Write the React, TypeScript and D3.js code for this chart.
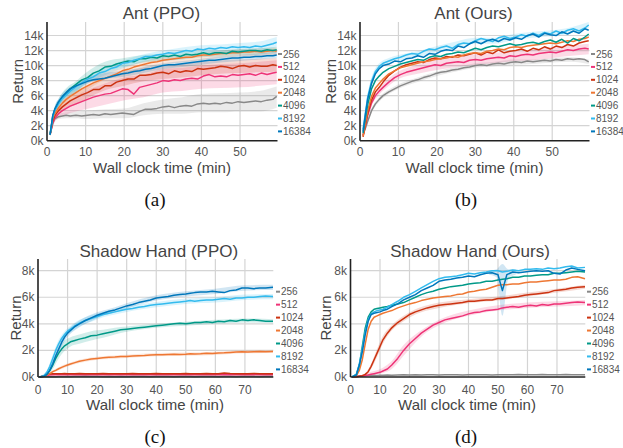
import React from "react";
import * as d3 from "d3";

// ---------- shared ----------
const COLORS = ["#888888", "#ee3377", "#cc3311", "#ee7733", "#009988", "#33bbee", "#0077bb"];
const ANT_NAMES = ["256", "512", "1024", "2048", "4096", "8192", "16384"];
const HAND_NAMES = ["256", "512", "1024", "2048", "4096", "8192", "16834"];

const ANT_X_TICKS = [0, 10, 20, 30, 40, 50];
const ANT_Y_TICKS = [0, 2, 4, 6, 8, 10, 12, 14];
const HAND_X_TICKS = [0, 10, 20, 30, 40, 50, 60, 70];
const HAND_Y_TICKS = [0, 2, 4, 6, 8];

// ---------- Ant: wall clock minutes, return in thousands ----------
const ANT_T = [0.8, 1.5, 2, 3, 4, 5, 6, 7.5, 9, 10.5, 12, 13.5, 15, 16.5, 18, 19.5, 21, 22.5, 24, 25.5, 27, 28.5, 30, 31.5, 33, 34.5, 36, 37.5, 39, 40.5, 42, 43.5, 45, 46.5, 48, 49.5, 51, 52.5, 54, 55.5, 57, 58.5, 59.5];
const ANT_BAND_T = [0.8, 2, 3, 5, 7.5, 10, 15, 20, 25, 30, 35, 40, 45, 50, 55, 59.5];

const ANT_PPO_256 = [0.8, 2.3, 2.9, 3.2, 3.3, 3.4, 3.3, 3.4, 3.3, 3.4, 3.5, 3.4, 3.6, 3.5, 3.6, 3.7, 3.6, 3.5, 3.9, 4.2, 4.2, 4.3, 4.5, 4.6, 4.4, 4.6, 4.7, 4.6, 4.9, 5.0, 4.9, 5.0, 4.9, 5.1, 5.0, 5.2, 5.1, 5.2, 5.3, 5.2, 5.4, 5.5, 5.9];
const ANT_PPO_512 = [0.8, 2.4, 3.0, 3.6, 4.0, 4.3, 4.6, 4.9, 5.2, 5.5, 5.8, 6.0, 6.2, 6.3, 6.6, 6.9, 6.8, 6.2, 7.1, 7.3, 7.5, 7.7, 8.0, 7.9, 8.1, 8.0, 8.2, 8.3, 8.2, 8.6, 8.8, 8.5, 8.6, 8.5, 8.8, 8.7, 8.8, 8.9, 8.7, 9.0, 8.8, 9.0, 9.1];
const ANT_PPO_1024 = [0.8, 2.7, 3.3, 4.0, 4.5, 4.9, 5.3, 5.7, 6.1, 6.4, 6.8, 6.8, 7.3, 7.3, 7.8, 8.0, 8.2, 8.2, 8.7, 8.7, 8.8, 9.0, 9.1, 8.9, 9.3, 9.1, 9.3, 9.2, 9.6, 9.5, 9.6, 9.7, 9.9, 9.8, 9.6, 9.9, 10.0, 9.8, 10.0, 9.9, 9.9, 10.1, 10.0];
const ANT_PPO_2048 = [0.8, 3.0, 3.6, 4.4, 5.0, 5.5, 5.9, 6.4, 6.9, 7.3, 7.7, 8.0, 8.3, 8.6, 8.9, 9.3, 9.5, 9.8, 10.0, 10.2, 10.4, 10.5, 10.7, 10.8, 10.9, 11.0, 11.1, 11.1, 11.3, 11.4, 11.4, 11.5, 11.6, 11.6, 11.7, 11.7, 11.8, 11.8, 11.9, 11.8, 11.9, 12.0, 11.9];
const ANT_PPO_4096 = [0.8, 3.3, 4.1, 5.1, 5.8, 6.4, 6.9, 7.5, 8.1, 8.4, 9.0, 9.3, 9.8, 9.9, 10.2, 10.4, 10.6, 10.5, 10.9, 10.9, 11.1, 11.0, 11.3, 11.2, 11.4, 11.2, 11.5, 11.4, 11.5, 11.7, 11.5, 11.7, 11.7, 11.6, 11.9, 11.8, 11.9, 12.0, 12.0, 11.9, 12.1, 12.0, 12.1];
const ANT_PPO_8192 = [0.8, 3.2, 4.0, 4.9, 5.6, 6.1, 6.6, 7.2, 7.7, 8.2, 8.5, 9.0, 9.2, 9.6, 9.8, 10.3, 10.4, 10.7, 10.9, 11.2, 11.2, 11.4, 11.5, 11.7, 11.6, 11.8, 12.0, 11.9, 12.2, 12.1, 12.3, 12.2, 12.4, 12.3, 12.5, 12.4, 12.5, 12.4, 12.6, 12.5, 12.7, 12.9, 13.1];
const ANT_PPO_16384 = [0.8, 3.4, 4.2, 5.2, 5.9, 6.4, 6.9, 7.3, 7.6, 7.9, 8.1, 8.2, 8.3, 8.5, 8.7, 8.9, 9.0, 9.2, 9.3, 9.5, 9.6, 9.8, 10.0, 10.1, 10.1, 10.2, 10.3, 10.4, 10.5, 10.6, 10.7, 10.7, 10.8, 10.9, 11.0, 11.0, 11.1, 11.1, 11.2, 11.2, 11.3, 11.3, 11.4];

const ANT_PPO_256_LO = [0.6, 2.6, 2.9, 3.0, 3.0, 2.9, 3.0, 3.0, 3.4, 3.6, 3.6, 3.8, 3.8, 3.9, 3.9, 4.4];
const ANT_PPO_256_HI = [1.0, 3.2, 3.6, 3.8, 3.9, 4.0, 4.2, 4.3, 5.0, 5.5, 5.8, 6.2, 6.3, 6.4, 6.6, 7.2];
const ANT_PPO_512_LO = [0.6, 2.5, 3.0, 3.5, 3.9, 4.2, 4.8, 5.4, 5.8, 6.4, 6.6, 6.9, 7.0, 7.1, 7.3, 7.5];
const ANT_PPO_512_HI = [1.0, 3.5, 4.2, 5.1, 5.9, 6.6, 7.6, 8.4, 8.8, 9.5, 9.7, 10.0, 10.2, 10.3, 10.5, 10.7];
const ANT_PPO_1024_LO = [0.6, 2.9, 3.5, 4.3, 4.8, 5.5, 6.7, 7.3, 7.9, 8.2, 8.4, 8.7, 8.9, 9.0, 9.1, 9.2];
const ANT_PPO_1024_HI = [1.0, 3.8, 4.7, 5.8, 6.5, 7.2, 8.4, 9.1, 9.7, 10.0, 10.2, 10.5, 10.7, 10.8, 10.9, 11.0];
const ANT_PPO_2048_LO = [0.6, 3.2, 4.0, 5.0, 5.7, 6.6, 8.1, 8.8, 9.6, 10.1, 10.4, 10.7, 11.0, 11.2, 11.3, 11.4];
const ANT_PPO_2048_HI = [1.0, 4.0, 4.8, 6.0, 6.7, 7.6, 9.1, 9.8, 10.6, 11.1, 11.4, 11.7, 12.0, 12.2, 12.3, 12.4];
const ANT_PPO_4096_LO = [0.6, 3.7, 4.6, 5.8, 6.5, 7.6, 9.1, 9.8, 10.4, 10.6, 10.8, 11.1, 11.2, 11.4, 11.5, 11.7];
const ANT_PPO_4096_HI = [1.0, 4.5, 5.6, 7.0, 7.9, 9.0, 10.5, 11.0, 11.4, 11.6, 11.8, 11.9, 12.0, 12.2, 12.3, 12.5];
const ANT_PPO_8192_LO = [0.6, 3.6, 4.4, 5.6, 6.4, 7.4, 8.7, 9.7, 10.5, 11.0, 11.3, 11.6, 11.7, 11.9, 12.0, 12.5];
const ANT_PPO_8192_HI = [1.0, 4.4, 5.4, 6.6, 7.4, 8.4, 9.7, 10.7, 11.5, 12.0, 12.4, 12.7, 12.8, 13.0, 13.2, 13.8];
const ANT_PPO_16384_LO = [0.6, 3.8, 4.8, 6.0, 6.7, 7.5, 8.2, 8.5, 9.0, 9.5, 9.8, 10.1, 10.4, 10.6, 10.8, 11.0];
const ANT_PPO_16384_HI = [1.0, 4.6, 5.6, 6.8, 7.5, 8.3, 9.0, 9.3, 9.8, 10.3, 10.6, 10.9, 11.2, 11.4, 11.6, 11.8];

const ANT_OURS_256 = [0.8, 1.8, 2.6, 4.0, 4.9, 5.5, 6.0, 6.5, 6.9, 7.3, 7.6, 7.9, 8.1, 8.4, 8.6, 8.9, 9.1, 9.2, 9.4, 9.5, 9.7, 9.8, 10.0, 10.1, 10.0, 10.2, 10.3, 10.2, 10.4, 10.5, 10.4, 10.6, 10.5, 10.6, 10.7, 10.6, 10.8, 10.7, 10.9, 10.8, 10.9, 10.8, 10.5];
const ANT_OURS_512 = [0.7, 2.2, 3.4, 5.0, 6.0, 6.6, 7.1, 7.8, 8.4, 8.8, 9.1, 9.3, 9.5, 9.7, 9.9, 10.1, 10.0, 10.3, 10.4, 10.5, 10.4, 10.7, 10.8, 10.7, 10.9, 11.0, 11.1, 11.0, 11.3, 11.2, 11.4, 11.5, 11.4, 11.6, 11.7, 11.8, 11.7, 11.9, 12.1, 12.0, 12.2, 12.3, 12.2];
const ANT_OURS_1024 = [0.5, 2.3, 3.6, 5.4, 6.5, 7.1, 7.8, 8.7, 9.3, 9.8, 10.1, 10.3, 10.5, 10.4, 10.8, 11.0, 10.9, 11.2, 11.1, 11.4, 11.3, 11.5, 11.7, 11.4, 11.8, 11.6, 12.1, 11.7, 11.9, 12.0, 12.2, 11.9, 12.3, 12.1, 12.5, 12.2, 12.6, 12.4, 12.8, 12.6, 13.0, 13.2, 13.3];
const ANT_OURS_2048 = [0.6, 2.6, 4.0, 5.9, 7.0, 7.6, 8.2, 8.9, 9.3, 9.7, 9.9, 10.1, 10.3, 10.5, 10.6, 10.8, 10.9, 11.0, 11.2, 11.1, 11.4, 11.6, 11.7, 11.6, 11.9, 12.0, 12.2, 12.1, 12.4, 12.5, 12.4, 12.6, 12.7, 12.8, 12.9, 13.0, 12.9, 13.1, 13.3, 13.2, 13.5, 13.6, 13.8];
const ANT_OURS_4096 = [1.0, 3.3, 4.8, 6.9, 8.0, 8.6, 9.1, 9.6, 9.9, 10.2, 10.4, 10.6, 10.8, 10.7, 11.1, 11.3, 11.2, 11.5, 11.6, 11.8, 11.7, 12.0, 12.3, 12.1, 12.4, 12.6, 12.5, 12.7, 12.9, 12.7, 12.8, 13.0, 13.1, 12.9, 13.2, 13.4, 13.1, 13.5, 13.0, 13.6, 13.3, 13.8, 14.2];
const ANT_OURS_8192 = [1.5, 4.0, 5.8, 7.9, 9.2, 9.9, 10.3, 10.6, 10.9, 11.1, 11.4, 11.6, 11.5, 11.9, 12.2, 12.1, 12.4, 12.6, 12.3, 12.8, 13.0, 12.9, 13.3, 13.6, 13.4, 13.2, 13.7, 13.9, 13.6, 13.8, 14.1, 13.9, 14.3, 14.0, 14.4, 14.2, 14.6, 14.3, 14.7, 14.9, 14.6, 15.0, 15.4];
const ANT_OURS_16384 = [1.2, 3.8, 5.5, 7.6, 8.9, 9.6, 10.0, 10.2, 10.6, 10.5, 10.9, 11.0, 11.3, 11.1, 11.6, 11.5, 11.9, 12.1, 12.0, 12.6, 12.4, 12.9, 13.2, 12.9, 13.3, 13.5, 13.2, 13.6, 13.4, 13.7, 13.5, 14.0, 14.2, 13.8, 14.3, 14.1, 14.0, 14.5, 14.2, 14.6, 14.3, 14.9, 14.7];

const ANT_OURS_256_LO = [0.6, 2.3, 3.7, 5.2, 6.2, 6.9, 7.8, 8.6, 9.2, 9.7, 9.9, 10.1, 10.2, 10.4, 10.5, 10.2];
const ANT_OURS_256_HI = [1.0, 2.9, 4.3, 5.8, 6.8, 7.5, 8.4, 9.2, 9.8, 10.3, 10.5, 10.8, 10.8, 11.0, 11.1, 10.8];
const ANT_OURS_512_LO = [0.5, 3.0, 4.6, 6.1, 7.3, 8.2, 8.9, 9.4, 9.8, 10.1, 10.3, 10.6, 10.7, 11.0, 11.3, 11.5];
const ANT_OURS_512_HI = [0.9, 3.8, 5.4, 7.1, 8.3, 9.2, 10.1, 10.8, 11.1, 11.5, 11.7, 11.9, 12.1, 12.5, 12.7, 12.9];
const ANT_OURS_8192_LO = [1.1, 5.3, 7.4, 9.5, 10.2, 10.6, 11.1, 11.8, 12.4, 12.9, 12.9, 13.4, 13.7, 13.9, 14.3, 15.0];
const ANT_OURS_8192_HI = [1.9, 6.3, 8.4, 10.3, 11.0, 11.4, 11.9, 12.6, 13.2, 13.7, 13.7, 14.2, 14.5, 14.7, 15.1, 15.8];

// ---------- Shadow Hand: wall clock minutes, return in thousands ----------
const HAND_T = [0.5, 2, 3, 4, 5, 6, 7, 8, 9, 10, 11, 12.5, 14, 16, 18, 20, 22, 24, 26, 28, 30, 32, 34, 36, 38, 40, 42, 44, 46, 48, 50, 51.5, 53, 55, 57, 59, 61, 63, 65, 67, 69, 71, 73, 75, 77, 79.5];
const HAND_BAND_T = [0.5, 3, 5, 7, 9, 11, 14, 18, 22, 26, 30, 40, 50, 60, 70, 79.5];

const HAND_PPO_256 = [0, 0.01, 0.02, 0.02, 0.03, 0.02, 0.03, 0.04, 0.03, 0.05, 0.04, 0.05, 0.06, 0.08, 0.06, 0.05, 0.04, 0.05, 0.04, 0.05, 0.04, 0.05, 0.06, 0.05, 0.04, 0.05, 0.06, 0.05, 0.04, 0.05, 0.06, 0.05, 0.04, 0.05, 0.06, 0.05, 0.04, 0.06, 0.05, 0.04, 0.05, 0.06, 0.05, 0.04, 0.05, 0.05];
const HAND_PPO_512 = [0, 0.05, 0.12, 0.15, 0.16, 0.17, 0.16, 0.17, 0.18, 0.17, 0.16, 0.17, 0.18, 0.17, 0.16, 0.17, 0.18, 0.17, 0.16, 0.17, 0.17, 0.18, 0.17, 0.16, 0.17, 0.18, 0.17, 0.16, 0.17, 0.17, 0.18, 0.17, 0.16, 0.17, 0.18, 0.17, 0.16, 0.17, 0.18, 0.17, 0.16, 0.17, 0.18, 0.17, 0.16, 0.17];
const HAND_PPO_1024 = [0, 0.1, 0.2, 0.22, 0.24, 0.25, 0.24, 0.25, 0.26, 0.25, 0.24, 0.25, 0.26, 0.25, 0.24, 0.25, 0.26, 0.25, 0.24, 0.25, 0.25, 0.26, 0.25, 0.24, 0.25, 0.26, 0.25, 0.24, 0.25, 0.25, 0.26, 0.25, 0.24, 0.25, 0.26, 0.25, 0.24, 0.3, 0.26, 0.25, 0.24, 0.25, 0.26, 0.25, 0.24, 0.25];
const HAND_PPO_2048 = [0, 0.05, 0.15, 0.25, 0.4, 0.5, 0.62, 0.72, 0.82, 0.9, 0.98, 1.08, 1.18, 1.27, 1.35, 1.4, 1.45, 1.48, 1.5, 1.55, 1.55, 1.58, 1.6, 1.62, 1.65, 1.68, 1.67, 1.7, 1.72, 1.7, 1.72, 1.75, 1.73, 1.75, 1.78, 1.76, 1.8, 1.82, 1.85, 1.88, 1.9, 1.88, 1.9, 1.92, 1.9, 1.92];
const HAND_PPO_4096 = [0, 0.05, 0.2, 0.5, 0.9, 1.4, 1.8, 2.1, 2.35, 2.5, 2.65, 2.75, 2.85, 2.95, 3.1, 3.15, 3.25, 3.35, 3.45, 3.55, 3.6, 3.65, 3.7, 3.75, 3.8, 3.85, 3.9, 3.95, 4.0, 4.05, 4.0, 4.05, 4.1, 4.1, 4.15, 4.1, 4.2, 4.15, 4.25, 4.2, 4.3, 4.25, 4.3, 4.25, 4.2, 4.2];
const HAND_PPO_8192 = [0, 0.1, 0.35, 0.8, 1.4, 2.0, 2.5, 2.9, 3.2, 3.45, 3.6, 3.85, 4.05, 4.25, 4.4, 4.55, 4.7, 4.8, 4.9, 5.0, 5.1, 5.15, 5.25, 5.3, 5.4, 5.45, 5.5, 5.55, 5.6, 5.65, 5.7, 5.75, 5.7, 5.75, 5.8, 5.8, 5.85, 5.9, 5.85, 5.95, 5.95, 6.0, 6.0, 6.05, 6.1, 6.05];
const HAND_PPO_16834 = [0, 0.05, 0.2, 0.5, 1.0, 1.6, 2.1, 2.6, 3.0, 3.3, 3.5, 3.8, 4.0, 4.25, 4.45, 4.65, 4.8, 4.95, 5.05, 5.2, 5.35, 5.45, 5.6, 5.7, 5.8, 5.95, 6.0, 6.05, 6.15, 6.2, 6.25, 6.3, 6.35, 6.4, 6.4, 6.45, 6.4, 6.35, 6.5, 6.55, 6.7, 6.7, 6.65, 6.7, 6.7, 6.75];

const HAND_PPO_2048_LO = [0, 0.1, 0.3, 0.5, 0.7, 0.86, 1.06, 1.23, 1.33, 1.38, 1.43, 1.56, 1.6, 1.66, 1.78, 1.8];
const HAND_PPO_2048_HI = [0.05, 0.2, 0.5, 0.74, 0.94, 1.1, 1.3, 1.47, 1.57, 1.62, 1.67, 1.8, 1.84, 1.9, 2.02, 2.04];
const HAND_PPO_4096_LO = [0, 0.1, 0.6, 1.4, 1.95, 2.3, 2.5, 2.75, 2.95, 3.2, 3.4, 3.7, 3.85, 4.0, 4.1, 4.05];
const HAND_PPO_4096_HI = [0.05, 0.3, 1.2, 2.2, 2.75, 3.0, 3.2, 3.45, 3.55, 3.7, 3.8, 4.0, 4.15, 4.3, 4.4, 4.35];
const HAND_PPO_8192_LO = [0, 0.2, 1.1, 2.2, 2.95, 3.35, 3.8, 4.15, 4.5, 4.7, 4.9, 5.25, 5.5, 5.6, 5.8, 5.85];
const HAND_PPO_8192_HI = [0.05, 0.5, 1.7, 2.8, 3.45, 3.85, 4.3, 4.65, 4.9, 5.1, 5.3, 5.65, 5.9, 6.0, 6.2, 6.25];
const HAND_PPO_16834_LO = [0, 0.1, 0.8, 1.8, 2.7, 3.25, 3.75, 4.2, 4.6, 4.85, 5.15, 5.75, 6.05, 6.25, 6.5, 6.55];
const HAND_PPO_16834_HI = [0.05, 0.3, 1.2, 2.4, 3.3, 3.75, 4.25, 4.7, 5.0, 5.25, 5.55, 6.15, 6.45, 6.65, 6.9, 6.95];

const HAND_OURS_256 = [0, 0.05, 0.08, 0.1, 0.1, 0.12, 0.12, 0.13, 0.12, 0.14, 0.13, 0.15, 0.14, 0.15, 0.16, 0.15, 0.16, 0.15, 0.17, 0.16, 0.15, 0.16, 0.17, 0.16, 0.15, 0.17, 0.16, 0.17, 0.16, 0.15, 0.17, 0.16, 0.17, 0.16, 0.18, 0.17, 0.16, 0.17, 0.18, 0.17, 0.16, 0.17, 0.18, 0.17, 0.16, 0.17];
const HAND_OURS_512 = [0, 0.02, 0.05, 0.08, 0.12, 0.15, 0.2, 0.25, 0.3, 0.35, 0.45, 0.6, 0.9, 1.4, 2.0, 2.5, 2.9, 3.3, 3.6, 3.9, 4.1, 4.3, 4.4, 4.5, 4.6, 4.75, 4.85, 4.9, 5.0, 5.05, 5.1, 5.2, 5.25, 5.3, 5.25, 5.35, 5.4, 5.35, 5.45, 5.4, 5.5, 5.5, 5.55, 5.6, 5.65, 5.6];
const HAND_OURS_1024 = [0, 0.02, 0.05, 0.1, 0.2, 0.4, 0.8, 1.3, 1.8, 2.3, 2.8, 3.3, 3.7, 4.1, 4.4, 4.7, 4.9, 5.05, 5.2, 5.3, 5.4, 5.45, 5.5, 5.55, 5.6, 5.7, 5.7, 5.75, 5.8, 5.8, 5.9, 5.9, 5.95, 6.0, 6.05, 6.15, 6.2, 6.25, 6.3, 6.35, 6.5, 6.55, 6.6, 6.7, 6.75, 6.8];
const HAND_OURS_2048 = [0, 0.1, 0.5, 1.3, 2.5, 3.6, 4.2, 4.5, 4.6, 4.7, 4.8, 4.9, 5.0, 5.2, 5.35, 5.5, 5.6, 5.75, 5.85, 5.95, 6.0, 6.05, 6.1, 6.2, 6.25, 6.4, 6.45, 6.55, 6.6, 6.75, 6.9, 6.95, 6.95, 7.0, 7.0, 7.1, 7.15, 7.15, 7.2, 7.25, 7.3, 7.3, 7.35, 7.5, 7.55, 7.4];
const HAND_OURS_4096 = [0, 0.2, 0.9, 2.3, 3.7, 4.5, 4.9, 5.1, 5.15, 5.2, 5.25, 5.3, 5.4, 5.5, 5.6, 5.8, 6.0, 6.2, 6.35, 6.45, 6.6, 6.7, 6.8, 6.85, 6.9, 7.0, 7.05, 7.1, 7.2, 7.2, 7.3, 7.35, 7.4, 7.5, 7.5, 7.6, 7.6, 7.65, 7.7, 7.7, 7.8, 7.8, 7.85, 7.9, 7.95, 7.9];
const HAND_OURS_8192 = [0, 0.2, 1.0, 2.1, 3.4, 4.3, 4.75, 4.9, 5.0, 5.05, 5.1, 5.25, 5.45, 5.7, 6.0, 6.2, 6.45, 6.7, 6.95, 7.2, 7.4, 7.5, 7.55, 7.6, 7.7, 7.8, 7.75, 7.85, 7.9, 8.0, 8.0, 7.9, 7.95, 8.05, 8.0, 8.1, 8.1, 8.15, 8.1, 8.2, 8.15, 8.2, 8.3, 8.35, 8.2, 8.25];
const HAND_OURS_16834 = [0, 0.15, 0.9, 1.9, 3.2, 4.2, 4.7, 4.8, 4.85, 4.9, 5.0, 5.1, 5.3, 5.5, 5.8, 6.0, 6.2, 6.5, 6.7, 6.9, 7.2, 7.3, 7.35, 7.45, 7.5, 7.6, 7.55, 7.7, 7.8, 7.85, 7.7, 6.5, 7.7, 7.9, 7.85, 7.9, 7.95, 8.0, 7.95, 8.0, 7.8, 7.75, 8.05, 8.2, 8.1, 8.0];

const HAND_OURS_512_LO = [0, 0, 0.05, 0.15, 0.2, 0.3, 0.6, 1.6, 2.6, 3.4, 3.9, 4.6, 5.0, 5.2, 5.3, 5.4];
const HAND_OURS_512_HI = [0.05, 0.1, 0.25, 0.4, 0.5, 0.7, 1.2, 2.4, 3.2, 3.8, 4.3, 5.0, 5.4, 5.6, 5.7, 5.8];
const HAND_OURS_1024_LO = [0, 0, 0.1, 0.6, 1.5, 2.5, 3.5, 4.2, 4.7, 5.0, 5.2, 5.55, 5.75, 6.05, 6.35, 6.65];
const HAND_OURS_1024_HI = [0.05, 0.1, 0.3, 1.0, 2.1, 3.1, 3.9, 4.6, 5.1, 5.4, 5.6, 5.85, 6.05, 6.35, 6.65, 6.95];
const HAND_OURS_DIP_T = [47, 49.5, 51.5, 53.5, 56];
const HAND_OURS_16834_DIP_LO = [7.7, 7.5, 4.6, 7.4, 7.7];
const HAND_OURS_16834_DIP_HI = [8.0, 8.1, 8.5, 8.1, 8.1];

type Band = { idx: number; t: number[]; lo: number[]; hi: number[] };
type PanelCfg = {
  title: string; tag: string;
  left: number; right: number; top: number; bottom: number;
  xMax: number; yMax: number; xTicks: number[]; yTicks: number[];
  t: number[]; series: number[][]; bands: Band[]; names: string[];
  titleX: number; titleY: number; yLabelX: number;
  xTitleX: number; xTitleY: number; tickGap: number;
  legendX: number; legendY: number; legendStep: number;
  tagX: number; tagY: number;
};

const PANELS: PanelCfg[] = [
  {
    title: "Ant (PPO)", tag: "(a)",
    left: 47, right: 277.5, top: 22, bottom: 140.7, xMax: 59.7, yMax: 15.8,
    xTicks: ANT_X_TICKS, yTicks: ANT_Y_TICKS, t: ANT_T,
    series: [ANT_PPO_256, ANT_PPO_512, ANT_PPO_1024, ANT_PPO_2048, ANT_PPO_4096, ANT_PPO_8192, ANT_PPO_16384],
    bands: [
      { idx: 0, t: ANT_BAND_T, lo: ANT_PPO_256_LO, hi: ANT_PPO_256_HI },
      { idx: 1, t: ANT_BAND_T, lo: ANT_PPO_512_LO, hi: ANT_PPO_512_HI },
      { idx: 2, t: ANT_BAND_T, lo: ANT_PPO_1024_LO, hi: ANT_PPO_1024_HI },
      { idx: 3, t: ANT_BAND_T, lo: ANT_PPO_2048_LO, hi: ANT_PPO_2048_HI },
      { idx: 4, t: ANT_BAND_T, lo: ANT_PPO_4096_LO, hi: ANT_PPO_4096_HI },
      { idx: 5, t: ANT_BAND_T, lo: ANT_PPO_8192_LO, hi: ANT_PPO_8192_HI },
      { idx: 6, t: ANT_BAND_T, lo: ANT_PPO_16384_LO, hi: ANT_PPO_16384_HI },
    ],
    names: ANT_NAMES,
    titleX: 161.5, titleY: 13, yLabelX: 17, xTitleX: 162, xTitleY: 167, tickGap: 11.5,
    legendX: 278, legendY: 54, legendStep: 12.9, tagX: 155, tagY: 199,
  },
  {
    title: "Ant (Ours)", tag: "(b)",
    left: 360, right: 589.5, top: 22, bottom: 140.7, xMax: 59.7, yMax: 15.8,
    xTicks: ANT_X_TICKS, yTicks: ANT_Y_TICKS, t: ANT_T,
    series: [ANT_OURS_256, ANT_OURS_512, ANT_OURS_1024, ANT_OURS_2048, ANT_OURS_4096, ANT_OURS_8192, ANT_OURS_16384],
    bands: [
      { idx: 0, t: ANT_BAND_T, lo: ANT_OURS_256_LO, hi: ANT_OURS_256_HI },
      { idx: 1, t: ANT_BAND_T, lo: ANT_OURS_512_LO, hi: ANT_OURS_512_HI },
      { idx: 5, t: ANT_BAND_T, lo: ANT_OURS_8192_LO, hi: ANT_OURS_8192_HI },
    ],
    names: ANT_NAMES,
    titleX: 473.5, titleY: 13, yLabelX: 330, xTitleX: 474.5, xTitleY: 167, tickGap: 11.5,
    legendX: 591, legendY: 54, legendStep: 12.9, tagX: 466, tagY: 199,
  },
  {
    title: "Shadow Hand (PPO)", tag: "(c)",
    left: 38, right: 273.3, top: 259, bottom: 377, xMax: 79.6, yMax: 8.88,
    xTicks: HAND_X_TICKS, yTicks: HAND_Y_TICKS, t: HAND_T,
    series: [HAND_PPO_256, HAND_PPO_512, HAND_PPO_1024, HAND_PPO_2048, HAND_PPO_4096, HAND_PPO_8192, HAND_PPO_16834],
    bands: [
      { idx: 3, t: HAND_BAND_T, lo: HAND_PPO_2048_LO, hi: HAND_PPO_2048_HI },
      { idx: 4, t: HAND_BAND_T, lo: HAND_PPO_4096_LO, hi: HAND_PPO_4096_HI },
      { idx: 5, t: HAND_BAND_T, lo: HAND_PPO_8192_LO, hi: HAND_PPO_8192_HI },
      { idx: 6, t: HAND_BAND_T, lo: HAND_PPO_16834_LO, hi: HAND_PPO_16834_HI },
    ],
    names: HAND_NAMES,
    titleX: 158.8, titleY: 251.7, yLabelX: 15, xTitleX: 155, xTitleY: 404, tickGap: 12.5,
    legendX: 276, legendY: 291.7, legendStep: 12.95, tagX: 155, tagY: 436,
  },
  {
    title: "Shadow Hand (Ours)", tag: "(d)",
    left: 350.5, right: 585.3, top: 259, bottom: 377, xMax: 79.6, yMax: 8.88,
    xTicks: HAND_X_TICKS, yTicks: HAND_Y_TICKS, t: HAND_T,
    series: [HAND_OURS_256, HAND_OURS_512, HAND_OURS_1024, HAND_OURS_2048, HAND_OURS_4096, HAND_OURS_8192, HAND_OURS_16834],
    bands: [
      { idx: 1, t: HAND_BAND_T, lo: HAND_OURS_512_LO, hi: HAND_OURS_512_HI },
      { idx: 2, t: HAND_BAND_T, lo: HAND_OURS_1024_LO, hi: HAND_OURS_1024_HI },
      { idx: 6, t: HAND_OURS_DIP_T, lo: HAND_OURS_16834_DIP_LO, hi: HAND_OURS_16834_DIP_HI },
    ],
    names: HAND_NAMES,
    titleX: 470, titleY: 251.5, yLabelX: 325, xTitleX: 467, xTitleY: 404, tickGap: 12.5,
    legendX: 587, legendY: 291.7, legendStep: 12.95, tagX: 466, tagY: 436,
  },
];

const SANS = "'Liberation Sans', Arial, sans-serif";

function Panel({ p }: { p: PanelCfg }) {
  const x = d3.scaleLinear().domain([0, p.xMax]).range([p.left, p.right]);
  const y = d3.scaleLinear().domain([0, p.yMax]).range([p.bottom, p.top]);

  const line = (vals: number[]) =>
    d3.line<number>().x((_, i) => x(p.t[i])).y((d) => y(d))(vals) ?? "";

  const area = (b: Band) =>
    d3
      .area<number>()
      .curve(d3.curveMonotoneX)
      .x((_, i) => x(b.t[i]))
      .y0((_, i) => y(b.lo[i]))
      .y1((_, i) => y(b.hi[i]))(b.lo) ?? "";

  return (
    <g>
      {/* grid */}
      {p.xTicks.filter((v) => v > 0).map((v) => (
        <line key={"gx" + v} x1={x(v)} x2={x(v)} y1={p.top} y2={p.bottom} stroke="#d4d4d4" strokeWidth={1.2} />
      ))}
      {p.yTicks.filter((v) => v > 0).map((v) => (
        <line key={"gy" + v} x1={p.left} x2={p.right} y1={y(v)} y2={y(v)} stroke="#d4d4d4" strokeWidth={1.2} />
      ))}

      {/* spread bands */}
      {p.bands.map((b, k) => (
        <path key={"b" + k} d={area(b)} fill={COLORS[b.idx]} fillOpacity={0.18} stroke="none" />
      ))}

      {/* mean curves */}
      {p.series.map((s, i) => (
        <path key={"s" + i} d={line(s)} fill="none" stroke={COLORS[i]} strokeWidth={1.5} strokeLinejoin="round" />
      ))}

      {/* axes */}
      <line x1={p.left} x2={p.left} y1={p.top} y2={p.bottom} stroke="#222" strokeWidth={1.6} />
      <line x1={p.left} x2={p.right} y1={p.bottom} y2={p.bottom} stroke="#222" strokeWidth={1.6} />

      {/* tick labels */}
      {p.yTicks.map((v) => (
        <text key={"ty" + v} x={p.left - 3.5} y={y(v)} textAnchor="end" dominantBaseline="central"
          fontSize={12} fill="#555" fontFamily={SANS}>{v + "k"}</text>
      ))}
      {p.xTicks.map((v) => (
        <text key={"tx" + v} x={x(v)} y={p.bottom + p.tickGap} textAnchor="middle" dominantBaseline="central"
          fontSize={12} fill="#555" fontFamily={SANS}>{v}</text>
      ))}

      {/* titles */}
      <text x={p.titleX} y={p.titleY} textAnchor="middle" dominantBaseline="central" fontSize={17} fill="#444" fontFamily={SANS}>{p.title}</text>
      <text x={p.xTitleX} y={p.xTitleY} textAnchor="middle" dominantBaseline="central" fontSize={15} fill="#444" fontFamily={SANS}>Wall clock time (min)</text>
      <text transform={`translate(${p.yLabelX},${(p.top + p.bottom) / 2}) rotate(-90)`} textAnchor="middle" dominantBaseline="central"
        fontSize={15} fill="#444" fontFamily={SANS}>Return</text>

      {/* legend */}
      {p.names.map((n, i) => {
        const ly = p.legendY + i * p.legendStep;
        return (
          <g key={"l" + n}>
            <line x1={p.legendX} x2={p.legendX + 4} y1={ly} y2={ly} stroke={COLORS[i]} strokeWidth={2} />
            <text x={p.legendX + 5} y={ly} dominantBaseline="central" fontSize={10} fill="#555" fontFamily={SANS}>{n}</text>
          </g>
        );
      })}

      {/* sub-figure tag */}
      <text x={p.tagX} y={p.tagY} textAnchor="middle" dominantBaseline="central" fontSize={19} fill="#111"
        fontFamily="'Liberation Serif', 'Times New Roman', serif">{p.tag}</text>
    </g>
  );
}

export default function App() {
  return (
    <svg width={623} height={448} viewBox="0 0 623 448"
      style={{ position: "absolute", left: 0, top: 0, background: "#fff" }}>
      <rect width={623} height={448} fill="#fff" />
      {PANELS.map((p) => (
        <Panel key={p.tag} p={p} />
      ))}
    </svg>
  );
}
